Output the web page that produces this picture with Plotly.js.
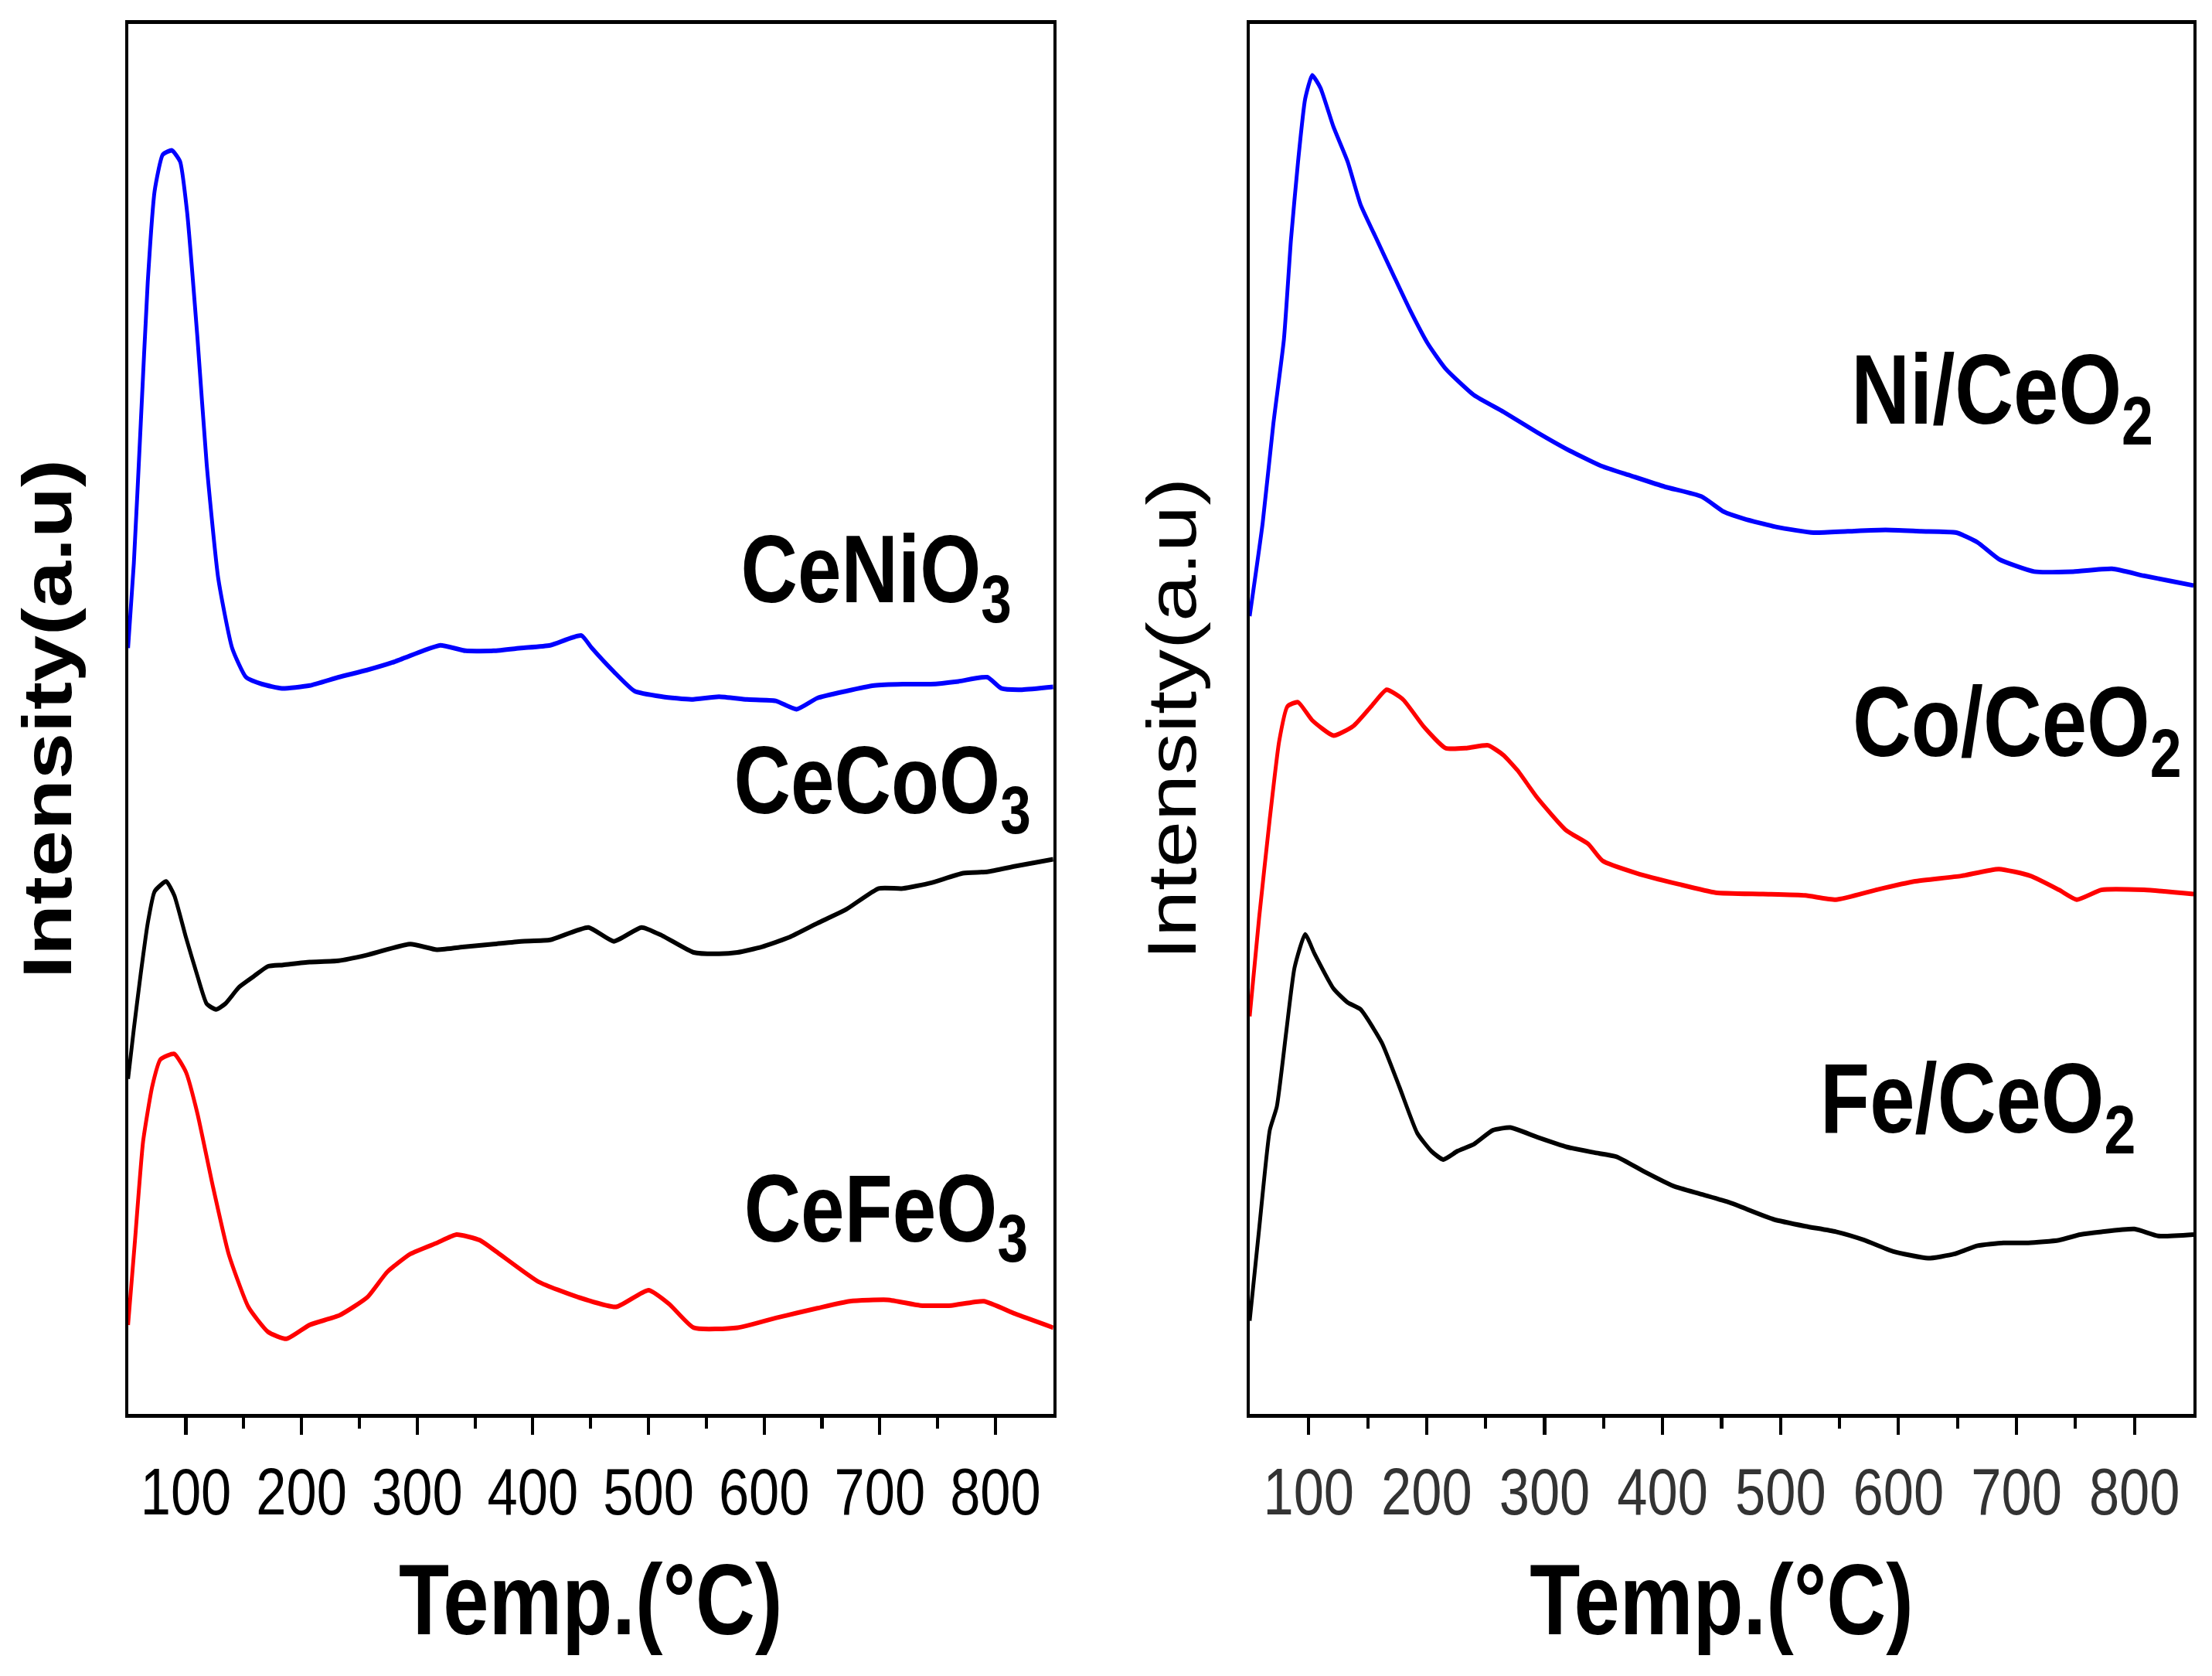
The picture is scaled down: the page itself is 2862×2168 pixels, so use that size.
<!DOCTYPE html>
<html>
<head>
<meta charset="utf-8">
<script src="https://cdn.plot.ly/plotly-3.0.1.min.js"></script>
<style>
  html, body { margin: 0; padding: 0; background: #fff; overflow: hidden; }
  #wrap { width: 2862px; height: 2168px; overflow: hidden; }
  /* the source figure is squeezed sideways, so draw wider and squeeze */
  #plot { width: 3490px; height: 2168px; transform: scaleX(0.82); transform-origin: 0 0; }
</style>
</head>
<body>
<div id="wrap"><div id="plot"></div></div>
<script>
// left panel: perovskites
var ceNiO3T = [50, 55, 61, 67, 73, 80, 88, 95, 101, 110, 118, 128, 140, 152, 166, 183, 207, 232, 256, 280, 305, 320, 342, 366, 390, 415, 442, 451, 470, 488, 512, 537, 561, 585, 610, 628, 646, 671, 695, 720, 744, 768, 793, 805, 823, 850];
var ceNiO3I = [55.1, 61.2, 71.3, 81.4, 88.0, 90.6, 90.9, 90.1, 86.5, 77.4, 68.3, 60.1, 55.1, 53.0, 52.5, 52.2, 52.4, 53.0, 53.5, 54.1, 54.9, 55.3, 54.9, 54.9, 55.1, 55.3, 56.0, 55.1, 53.4, 52.0, 51.6, 51.4, 51.6, 51.4, 51.3, 50.7, 51.5, 52.0, 52.4, 52.5, 52.5, 52.7, 53.0, 52.2, 52.1, 52.3];

var ceCoO3T = [50, 55, 61, 67, 73, 83, 90, 100, 110, 118, 126, 134, 146, 159, 171, 184, 207, 232, 256, 294, 317, 341, 366, 390, 415, 448, 470, 494, 512, 539, 561, 577, 598, 622, 646, 671, 699, 720, 744, 772, 793, 817, 850];
var ceCoO3I = [24.1, 27.7, 31.7, 35.3, 37.6, 38.3, 37.3, 34.3, 31.5, 29.5, 29.1, 29.5, 30.7, 31.5, 32.2, 32.3, 32.5, 32.6, 33.0, 33.8, 33.4, 33.6, 33.8, 34.0, 34.1, 35.0, 34.0, 35.0, 34.4, 33.2, 33.1, 33.2, 33.6, 34.3, 35.3, 36.3, 37.8, 37.8, 38.2, 38.9, 39.0, 39.4, 39.9];

var ceFeO3T = [50, 56, 63, 71, 78, 90, 100, 110, 123, 137, 154, 171, 187, 207, 233, 257, 274, 294, 317, 334, 354, 368, 405, 439, 472, 500, 518, 539, 577, 610, 646, 674, 707, 735, 762, 790, 817, 850];
var ceFeO3I = [6.4, 12.5, 19.6, 23.6, 25.5, 25.9, 24.6, 21.6, 16.5, 11.5, 7.7, 5.9, 5.4, 6.4, 7.1, 8.4, 10.2, 11.5, 12.3, 12.9, 12.5, 11.7, 9.5, 8.4, 7.7, 8.9, 7.9, 6.2, 6.2, 6.9, 7.6, 8.1, 8.2, 7.8, 7.8, 8.1, 7.2, 6.2];

// right panel: supported catalysts
var niCeO2T = [50, 61, 70, 79, 85, 91, 97, 103, 110, 121, 133, 144, 156, 172, 186, 201, 216, 240, 265, 294, 319, 348, 373, 402, 433, 452, 469, 497, 528, 557, 589, 619, 649, 667, 685, 715, 748, 781, 808, 832, 850];
var niCeO2I = [57.4, 64.1, 71.2, 77.3, 84.5, 90.1, 94.6, 96.3, 95.4, 92.6, 90.1, 87.0, 84.8, 81.9, 79.4, 77.0, 75.2, 73.3, 72.1, 70.6, 69.4, 68.2, 67.5, 66.7, 66.0, 64.9, 64.4, 63.8, 63.4, 63.5, 63.6, 63.5, 63.4, 62.7, 61.5, 60.6, 60.6, 60.8, 60.3, 59.9, 59.6];

var coCeO2T = [50, 58, 67, 75, 82, 91, 103, 121, 138, 153, 166, 180, 198, 216, 234, 252, 265, 277, 294, 318, 337, 349, 378, 414, 445, 485, 521, 547, 581, 613, 653, 685, 712, 736, 751, 772, 808, 850];
var coCeO2I = [28.6, 35.7, 42.8, 48.4, 50.9, 51.2, 49.9, 48.8, 49.5, 50.9, 52.1, 51.4, 49.4, 47.9, 47.9, 48.1, 47.4, 46.3, 44.3, 42.0, 41.0, 39.8, 38.9, 38.1, 37.5, 37.4, 37.3, 37.0, 37.7, 38.3, 38.7, 39.2, 38.7, 37.7, 37.0, 37.7, 37.7, 37.4];

var feCeO2T = [50, 58, 67, 73, 81, 88, 97, 105, 121, 133, 144, 162, 177, 192, 204, 214, 226, 240, 256, 271, 294, 319, 342, 361, 385, 409, 433, 457, 494, 521, 547, 571, 595, 625, 647, 667, 689, 710, 736, 754, 772, 800, 820, 850];
var feCeO2I = [6.7, 13.3, 20.4, 22.1, 27.5, 32.1, 34.5, 33.1, 30.6, 29.6, 29.1, 26.7, 23.5, 20.2, 18.9, 18.3, 18.9, 19.4, 20.4, 20.6, 19.9, 19.2, 18.8, 18.5, 17.4, 16.4, 15.8, 15.2, 14.0, 13.5, 13.1, 12.5, 11.7, 11.2, 11.5, 12.1, 12.3, 12.3, 12.5, 12.9, 13.1, 13.3, 12.8, 12.9];

var tickTemps = [100, 200, 300, 400, 500, 600, 700, 800];

var sans = 'Liberation Sans, Arial, sans-serif';
var narrow = 'Liberation Sans Narrow, Arial Narrow, Liberation Sans, Arial, sans-serif';

function line(x, y, color, ax) {
  return {
    x: x, y: y, type: 'scatter', mode: 'lines',
    xaxis: 'x' + ax, yaxis: 'y' + ax,
    line: {color: color, width: 6, shape: 'spline', smoothing: 0.5},
    hoverinfo: 'skip'
  };
}

var data = [
  line(ceNiO3T, ceNiO3I, '#0000ff', ''),
  line(ceCoO3T, ceCoO3I, '#000000', ''),
  line(ceFeO3T, ceFeO3I, '#ff0000', ''),
  line(niCeO2T, niCeO2I, '#0000ff', '2'),
  line(coCeO2T, coCeO2I, '#ff0000', '2'),
  line(feCeO2T, feCeO2I, '#000000', '2')
];

function xAxis(domain, anchor, tickColor) {
  return {
    domain: domain, anchor: anchor, range: [50, 850],
    tickvals: tickTemps, ticktext: tickTemps.map(String),
    ticks: 'outside', ticklen: 22, tickwidth: 5, tickcolor: '#000',
    minor: {tickvals: [150, 250, 350, 450, 550, 650, 750], ticks: 'outside', ticklen: 14, tickwidth: 5, tickcolor: '#000'},
    tickfont: {family: narrow, size: 86, color: tickColor},
    showline: true, linewidth: 5, linecolor: '#000', mirror: true,
    showgrid: false, zeroline: false,
    title: {text: 'Temp.(°C)', font: {family: sans, size: 130, color: '#000', weight: 'bold'}, standoff: 48}
  };
}

function yAxis(anchor, weight, standoff) {
  return {
    domain: [0.1564, 0.9857], anchor: anchor, range: [0, 100],
    showticklabels: false, ticks: '',
    showline: true, linewidth: 5, linecolor: '#000', mirror: true,
    showgrid: false, zeroline: false,
    title: {text: 'Intensity(a.u)', font: {family: sans, size: 108, color: '#000', weight: weight}, standoff: standoff}
  };
}

function label(text, x, y, ax, size) {
  return {
    text: text, x: x, y: y, xref: 'x' + ax, yref: 'y' + ax,
    xanchor: 'right', yanchor: 'middle', showarrow: false,
    font: {family: sans, size: size, color: '#000', weight: 'bold'}
  };
}

var layout = {
  width: 3490, height: 2168,
  margin: {l: 0, r: 0, t: 0, b: 0},
  paper_bgcolor: '#fff', plot_bgcolor: '#fff',
  showlegend: false,
  xaxis: xAxis([0.0579, 0.4762], 'y', '#000'),
  yaxis: yAxis('x', 'bold', 50),
  xaxis2: xAxis([0.5650, 0.9917], 'y2', '#333'),
  yaxis2: yAxis('x2', 'normal', 45),
  annotations: [
    label('CeNiO<sub>3</sub>', 815, 60.3, '', 124),
    label('CeCoO<sub>3</sub>', 832, 45.1, '', 124),
    label('CeFeO<sub>3</sub>', 829, 14.3, '', 124),
    label('Ni/CeO<sub>2</sub>', 817, 73.2, '2', 128),
    label('Co/CeO<sub>2</sub>', 841, 49.3, '2', 128),
    label('Fe/CeO<sub>2</sub>', 802, 22.2, '2', 128)
  ]
};

Plotly.newPlot('plot', data, layout, {displayModeBar: false, staticPlot: true});
</script>
</body>
</html>
